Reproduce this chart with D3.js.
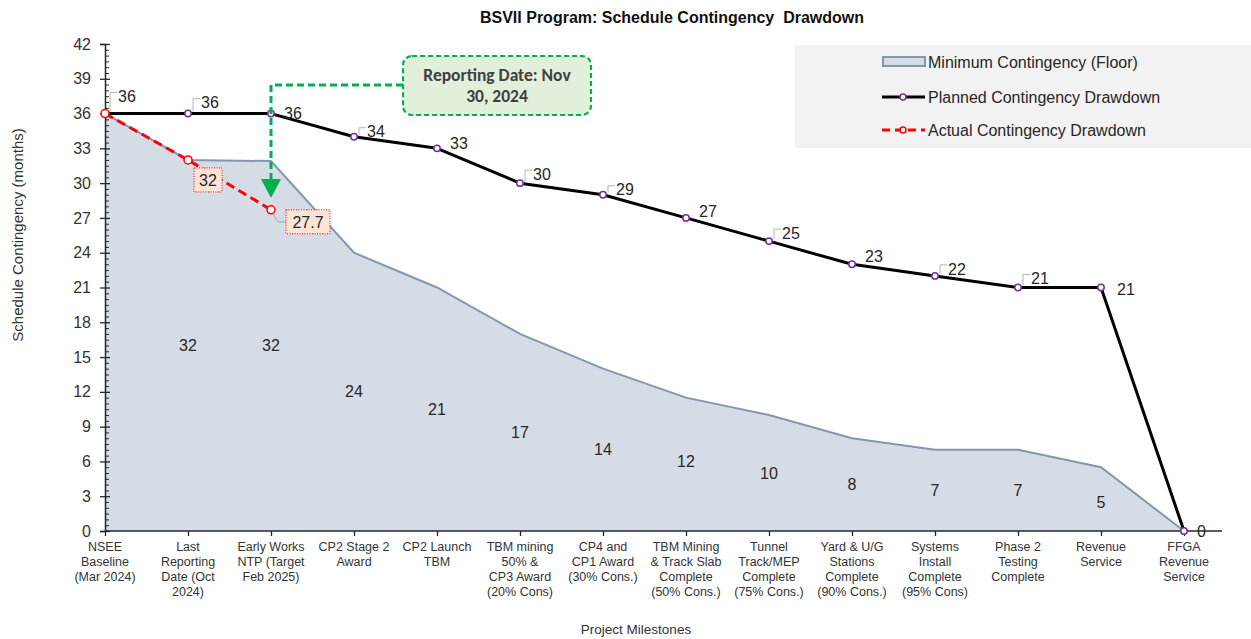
<!DOCTYPE html>
<html><head><meta charset="utf-8">
<script src="https://cdn.jsdelivr.net/npm/d3@7"></script>
<style>
body{margin:0;background:#fff;}
text{font-family:"Liberation Sans",Arial,sans-serif;}
</style></head>
<body>
<svg id="chart" width="1251" height="639"></svg>
<script>
const categories = [
  "NSEE\nBaseline\n(Mar 2024)",
  "Last\nReporting\nDate (Oct\n2024)",
  "Early Works\nNTP (Target\nFeb 2025)",
  "CP2 Stage 2\nAward",
  "CP2 Launch\nTBM",
  "TBM mining\n50% &\nCP3 Award\n(20% Cons)",
  "CP4 and\nCP1 Award\n(30% Cons.)",
  "TBM Mining\n& Track Slab\nComplete\n(50% Cons.)",
  "Tunnel\nTrack/MEP\nComplete\n(75% Cons.)",
  "Yard & U/G\nStations\nComplete\n(90% Cons.)",
  "Systems\nInstall\nComplete\n(95% Cons)",
  "Phase 2\nTesting\nComplete",
  "Revenue\nService",
  "FFGA\nRevenue\nService"
];
const floorValues   = [36, 32, 31.9, 24, 21, 17, 14, 11.5, 10, 8, 7, 7, 5.5, 0];
const floorLabels   = [null, 32, 32, 24, 21, 17, 14, 12, 10, 8, 7, 7, 5, null];
const plannedValues = [36, 36, 36, 34, 33, 30, 29, 27, 25, 23, 22, 21, 21, 0];
const actualValues  = [36, 32, 27.7];
const yTicks = [0, 3, 6, 9, 12, 15, 18, 21, 24, 27, 30, 33, 36, 39, 42];
const seriesNames = ["Minimum Contingency (Floor)", "Planned Contingency Drawdown", "Actual Contingency Drawdown"];
const titleText = "BSVII Program: Schedule Contingency  Drawdown";
const calloutText = ["Reporting Date: Nov", "30, 2024"];
const reportingIndex = 2;

// label layout (offsets in px for planned labels)
const plannedLabelDy = [-17, -11, 0, -5, -5, -9, -5, -7, -8, -8, -7, -9, 2, 0];
const plannedLeader  = [1, 1, 0, 1, 0, 1, 1, 0, 1, 0, 1, 1, 0, 0];

const svg = d3.select("#chart");

const x = d3.scalePoint().domain(d3.range(categories.length)).range([105, 1184]);
const y = d3.scaleLinear().domain([0, 42]).range([531, 44]);

// title
svg.append("text").attr("x", 672).attr("y", 23).attr("text-anchor", "middle")
  .attr("font-size", 16).attr("font-weight", "bold").attr("fill", "#111")
  .style("white-space", "pre").attr("xml:space", "preserve").text(titleText);

// legend
const lg = svg.append("g");
lg.append("rect").attr("x", 795).attr("y", 45).attr("width", 456).attr("height", 103).attr("fill", "#f2f2f2");
const ly = [62, 97, 130];
lg.append("rect").attr("x", 883).attr("y", 57).attr("width", 42).attr("height", 9)
  .attr("fill", "#d6dce5").attr("stroke", "#8497b0").attr("stroke-width", 2);
lg.append("line").attr("x1", 882).attr("x2", 925).attr("y1", ly[1]).attr("y2", ly[1]).attr("stroke", "#000").attr("stroke-width", 3);
lg.append("circle").attr("cx", 903).attr("cy", ly[1]).attr("r", 3).attr("fill", "#fff").attr("stroke", "#7030a0").attr("stroke-width", 1.5);
lg.append("line").attr("x1", 882).attr("x2", 925).attr("y1", ly[2]).attr("y2", ly[2]).attr("stroke", "#ff0000").attr("stroke-width", 3).attr("stroke-dasharray", "8,5");
lg.append("circle").attr("cx", 903).attr("cy", ly[2]).attr("r", 3).attr("fill", "#fff").attr("stroke", "#ff0000").attr("stroke-width", 1.5);
seriesNames.forEach((n, i) => {
  lg.append("text").attr("x", 928).attr("y", ly[i]).attr("dy", "0.35em").attr("font-size", 16)
    .attr("fill", "#262626").text(n);
});

// floor area
const area = d3.area().x((d, i) => x(i)).y0(y(0)).y1(d => y(d));
svg.append("path").datum(floorValues).attr("d", area).attr("fill", "#d6dce5");
svg.append("path").datum(floorValues).attr("d", d3.line().x((d, i) => x(i)).y(d => y(d)))
  .attr("fill", "none").attr("stroke", "#8497b0").attr("stroke-width", 2);

// floor labels (centered at half height)
floorLabels.forEach((v, i) => {
  if (v === null) return;
  svg.append("text").attr("x", x(i)).attr("y", y(v / 2)).attr("dy", "0.35em").attr("text-anchor", "middle")
    .attr("font-size", 16).attr("fill", "#262626").text(v);
});

// Y axis
const yAxis = svg.append("g").attr("transform", `translate(${x(0)},0)`)
  .call(d3.axisLeft(y).tickValues(yTicks).tickSize(5).tickPadding(9));
yAxis.select(".domain").attr("stroke", "#262626").attr("stroke-width", 1.5);
yAxis.selectAll(".tick line").attr("stroke", "#262626").attr("stroke-width", 1.3).attr("x2", -5).attr("x1", 5);
yAxis.selectAll(".tick text").attr("font-size", 16).attr("fill", "#333").attr("font-family", "Liberation Sans, Arial, sans-serif");
const minor = d3.range(0, 42.01, 0.5).filter(v => v % 3 !== 0);
svg.append("g").attr("transform", `translate(${x(0)},0)`)
  .call(d3.axisRight(y).tickValues(minor).tickSize(4).tickFormat(""))
  .call(g => g.select(".domain").remove())
  .selectAll(".tick line").attr("stroke", "#262626").attr("stroke-width", 1);

// X axis
const xAxis = svg.append("g").attr("transform", `translate(0,${y(0)})`)
  .call(d3.axisBottom(x).tickSize(5).tickFormat(""));
xAxis.select(".domain").remove();
xAxis.selectAll(".tick line").attr("stroke", "#262626").attr("stroke-width", 1.3);
svg.append("line").attr("x1", x(0)).attr("x2", 1222).attr("y1", y(0)).attr("y2", y(0))
  .attr("stroke", "#262626").attr("stroke-width", 1.5);
categories.forEach((c, i) => {
  const t = svg.append("text").attr("x", x(i)).attr("y", 551).attr("text-anchor", "middle")
    .attr("font-size", 12.5).attr("fill", "#333")
    .style("font-family", "'Liberation Sans Narrow','Arial Narrow',sans-serif");
  c.split("\n").forEach((l, k) => t.append("tspan").attr("x", x(i)).attr("dy", k ? 15 : 0).text(l));
});

// axis titles
svg.append("text").attr("x", 636).attr("y", 634).attr("text-anchor", "middle").attr("font-size", 13.5)
  .attr("fill", "#333").text("Project Milestones");
svg.append("text").attr("transform", "translate(23,235) rotate(-90)").attr("text-anchor", "middle")
  .attr("font-size", 15).attr("fill", "#333").text("Schedule Contingency (months)");

// planned line
svg.append("path").datum(plannedValues)
  .attr("d", d3.line().x((d, i) => x(i)).y(d => y(d)))
  .attr("fill", "none").attr("stroke", "#000").attr("stroke-width", 3).attr("stroke-linejoin", "round");
svg.selectAll(".pm").data(plannedValues).enter().append("circle")
  .attr("cx", (d, i) => x(i)).attr("cy", d => y(d)).attr("r", 3.2)
  .attr("fill", "#fff").attr("stroke", "#7030a0").attr("stroke-width", 1.5);
plannedValues.forEach((v, i) => {
  const px = x(i), py = y(v);
  const lx = px + 13, lyy = py + plannedLabelDy[i];
  if (plannedLeader[i]) {
    svg.append("path").attr("d", `M${px + 5},${py - 2} V${lyy - 4} H${lx - 1}`)
      .attr("fill", "none").attr("stroke", "#b4b4b4").attr("stroke-width", 1);
  }
  svg.append("text").attr("x", lx + (i === 12 ? 3 : 0)).attr("y", lyy).attr("dy", "0.35em")
    .attr("font-size", 16).attr("fill", "#262626").text(v);
});

// actual line
svg.append("path").datum(actualValues)
  .attr("d", d3.line().x((d, i) => x(i)).y(d => y(d)))
  .attr("fill", "none").attr("stroke", "#ff0000").attr("stroke-width", 3).attr("stroke-dasharray", "9,5");
svg.selectAll(".am").data(actualValues).enter().append("circle")
  .attr("cx", (d, i) => x(i)).attr("cy", d => y(d)).attr("r", 4)
  .attr("fill", "#fff").attr("stroke", "#ff0000").attr("stroke-width", 1.5);
// actual labels
const aLab = [null, {dx: 20, dy: 20, w: 28}, {dx: 37, dy: 12, w: 44}];
actualValues.forEach((v, i) => {
  if (!aLab[i]) return;
  const cx = x(i) + aLab[i].dx, cy = y(v) + aLab[i].dy;
  if (i === 2) svg.append("path").attr("d", `M${x(i) + 2},${y(v) + 4} L${x(i) + 7},${cy} H${cx - aLab[i].w / 2}`)
    .attr("fill", "none").attr("stroke", "#a6a6a6").attr("stroke-width", 1);
  svg.append("rect").attr("x", cx - aLab[i].w / 2).attr("y", cy - 12).attr("width", aLab[i].w).attr("height", 24)
    .attr("fill", "#fce4d6").attr("stroke", "#ff0000").attr("stroke-width", 1).attr("stroke-dasharray", "1,1.5");
  svg.append("text").attr("x", cx).attr("y", cy + 0.5).attr("dy", "0.35em").attr("text-anchor", "middle")
    .attr("font-size", 16).attr("fill", "#262626").text(v);
});

// callout
const rx = x(reportingIndex);
svg.append("path").attr("d", `M403,85 H${rx} V182`).attr("fill", "none")
  .attr("stroke", "#00b050").attr("stroke-width", 3).attr("stroke-dasharray", "7,4");
svg.append("path").attr("d", `M${rx - 10},179 L${rx + 10},179 L${rx},198 Z`).attr("fill", "#00b050");
svg.append("rect").attr("x", 403).attr("y", 56).attr("width", 188).attr("height", 59).attr("rx", 9)
  .attr("fill", "#e2efda").attr("stroke", "#00b050").attr("stroke-width", 2.2).attr("stroke-dasharray", "5,3");
calloutText.forEach((t, k) => {
  svg.append("text").attr("x", 497).attr("y", 75 + k * 21).attr("dy", "0.35em").attr("text-anchor", "middle")
    .attr("font-size", 17.5).attr("font-weight", "bold").attr("fill", "#404040")
    .style("font-family", "Carlito, Calibri, 'Liberation Sans', sans-serif").text(t);
});
</script>
</body></html>
